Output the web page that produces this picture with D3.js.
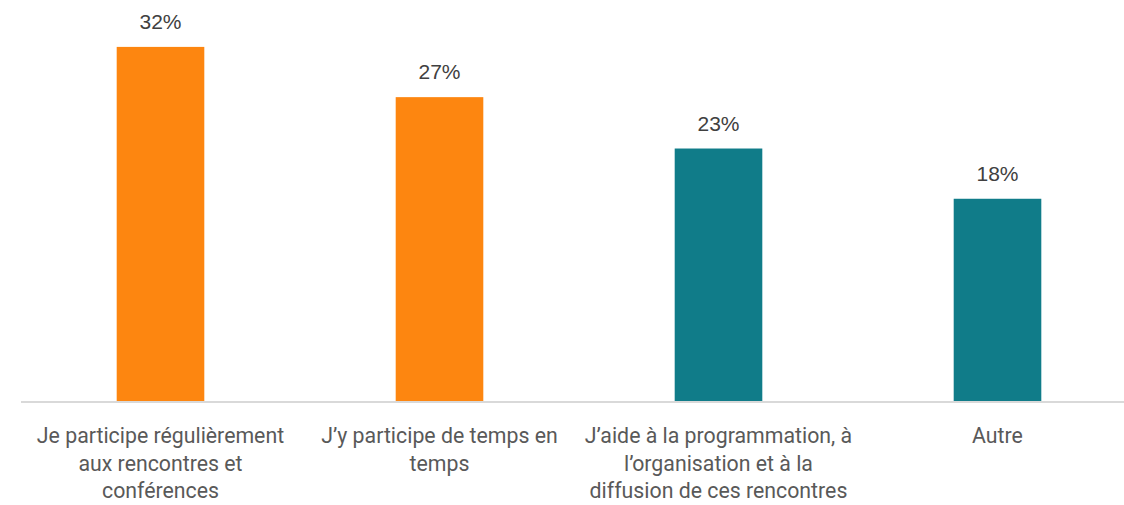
<!DOCTYPE html>
<html>
<head>
<meta charset="utf-8">
<script src="https://cdn.jsdelivr.net/npm/d3@7"></script>
<style>
  html, body { margin: 0; padding: 0; background: #ffffff; }
  svg { display: block; }
</style>
</head>
<body>
<svg id="chart" width="1124" height="505"></svg>
<script>
// ---- data ----
const categories = [
  "Je participe régulièrement\naux rencontres et\nconférences",
  "J’y participe de temps en\ntemps",
  "J’aide à la programmation, à\nl’organisation et à la\ndiffusion de ces rencontres",
  "Autre"
];
const values = [31.8, 27.3, 22.7, 18.2];
const valueLabels = ["32%", "27%", "23%", "18%"];
const barColors = ["#FD8610", "#FD8610", "#107C89", "#107C89"];

// ---- layout ----
const svg = d3.select("#chart");
const width = 1124, height = 505;

const x = d3.scaleBand()
  .domain(categories)
  .range([21, 1137])
  .paddingInner(0.686)
  .paddingOuter(0.343);

const y = d3.scaleLinear()
  .domain([0, 36])
  .range([402, 0]);

// bars
svg.append("g")
  .selectAll("rect")
  .data(values)
  .join("rect")
  .attr("x", (d, i) => x(categories[i]))
  .attr("y", d => y(d))
  .attr("width", x.bandwidth())
  .attr("height", d => y(0) - y(d))
  .attr("fill", (d, i) => barColors[i]);

// axis line
const xAxis = d3.axisBottom(x).tickSize(0).tickFormat("");
const ax = svg.append("g")
  .attr("transform", `translate(0,${y(0)})`)
  .call(xAxis);
ax.select(".domain")
  .attr("stroke", "#d9d9d9")
  .attr("stroke-width", 2)
  .attr("d", `M21,0H1137`);

// value labels
svg.append("g")
  .selectAll("text")
  .data(values)
  .join("text")
  .attr("x", (d, i) => x(categories[i]) + x.bandwidth() / 2)
  .attr("y", d => y(d) - 18)
  .attr("text-anchor", "middle")
  .attr("font-family", "'Liberation Sans', Arial, sans-serif")
  .attr("font-size", 21)
  .attr("fill", "#404040")
  .text((d, i) => valueLabels[i]);

// category labels
const catG = svg.append("g");
categories.forEach((c, i) => {
  const t = catG.append("text")
    .attr("x", x(c) + x.bandwidth() / 2)
    .attr("y", y(0) + 41)
    .attr("text-anchor", "middle")
    .attr("font-family", "Roboto, 'Open Sans', sans-serif")
    .attr("font-size", 21.3)
    .attr("fill", "#595959");
  c.split("\n").forEach((line, j) => {
    t.append("tspan")
      .attr("x", x(c) + x.bandwidth() / 2)
      .attr("dy", j === 0 ? 0 : 27.5)
      .text(line);
  });
});
</script>
</body>
</html>
